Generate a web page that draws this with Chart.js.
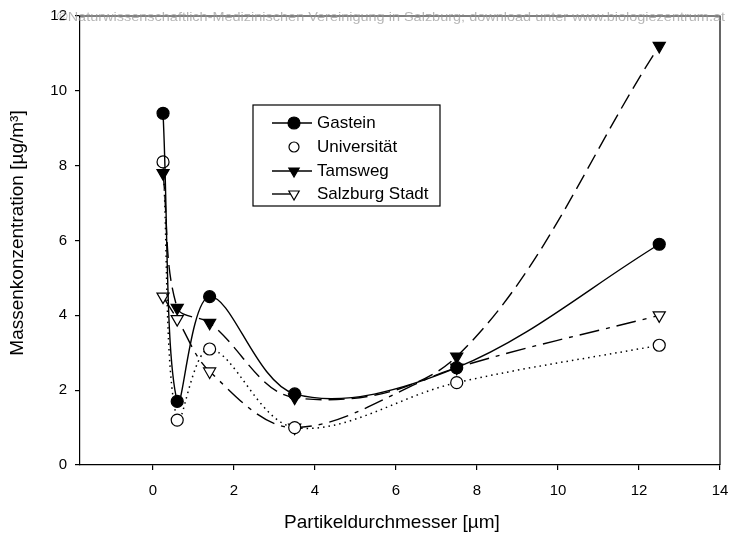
<!DOCTYPE html>
<html>
<head>
<meta charset="utf-8">
<script src="https://cdn.jsdelivr.net/npm/chart.js@4.4.1/dist/chart.umd.min.js"></script>
<style>
  html, body { margin: 0; padding: 0; background: #fff; }
  #wrap { width: 730px; height: 541px; }
</style>
</head>
<body>
<div id="wrap"><canvas id="chart" width="730" height="541"></canvas></div>
<script>
// particle diameter (µm) and mass concentration (µg/m³) per site
const diameters = [0.25, 0.6, 1.4, 3.5, 7.5, 12.5];
const gastein = [9.4, 1.7, 4.5, 1.9, 2.6, 5.9];
const universitaet = [8.1, 1.2, 3.1, 1.0, 2.2, 3.2];
const tamsweg = [7.8, 4.2, 3.8, 1.8, 2.9, 11.2];
const salzburgStadt = [4.5, 3.9, 2.5, 1.0, 2.6, 4.0];

const xTicks = [0, 2, 4, 6, 8, 10, 12, 14];
const yTicks = [0, 2, 4, 6, 8, 10, 12];

const X_TITLE = 'Partikeldurchmesser [µm]';
const Y_TITLE = 'Massenkonzentration [µg/m³]';

const FONT = 'Arial, "Liberation Sans", sans-serif';
const WATERMARK = '©Naturwissenschaftlich-Medizinischen Vereinigung in Salzburg; download unter www.biologiezentrum.at';

function pts(vals) {
  return vals.map((v, i) => ({ x: diameters[i], y: v }));
}

function series(label, vals, opts) {
  return Object.assign({
    label: label,
    data: pts(vals),
    borderColor: '#000',
    borderWidth: 1.4,
    pointBorderColor: '#000',
    pointBorderWidth: 1.2,
    pointRadius: 6,
    tension: 0.35,
    fill: false,
  }, opts);
}

// legend sample: how far the little line reaches on each side of the marker
const legendLines = {
  'Gastein': [-22, 18],
  'Universität': null,
  'Tamsweg': [-22, 18],
  'Salzburg Stadt': [-22, 0],
};

const boxLegend = {
  id: 'boxLegend',
  afterDatasetsDraw(chart) {
    const ctx = chart.ctx;
    ctx.save();
    ctx.fillStyle = '#fff';
    ctx.fillRect(253, 105, 187, 101);
    ctx.strokeStyle = '#000';
    ctx.lineWidth = 1.2;
    ctx.strokeRect(253, 105, 187, 101);
    const rows = [123, 147, 171, 194];
    chart.data.datasets.forEach((ds, i) => {
      const y = rows[i];
      const mx = 294;
      const span = legendLines[ds.label];
      if (span) {
        ctx.beginPath();
        ctx.setLineDash([]);
        ctx.lineWidth = 1.4;
        ctx.strokeStyle = '#000';
        ctx.moveTo(mx + span[0], y);
        ctx.lineTo(mx + span[1], y);
        ctx.stroke();
      }
      ctx.fillStyle = ds.pointBackgroundColor;
      ctx.strokeStyle = '#000';
      ctx.lineWidth = 1.2;
      Chart.helpers.drawPoint(ctx, {
        pointStyle: ds.pointStyle,
        rotation: ds.pointRotation || 0,
        radius: ds.legendRadius,
        borderWidth: 1.2,
      }, mx, y);
      ctx.fillStyle = '#000';
      ctx.font = '17px ' + FONT;
      ctx.textBaseline = 'middle';
      ctx.textAlign = 'left';
      ctx.fillText(ds.label, 317, y);
    });
    ctx.restore();
  }
};

const frame = {
  id: 'frame',
  afterDraw(chart) {
    const a = chart.chartArea;
    const ctx = chart.ctx;
    ctx.save();
    ctx.strokeStyle = '#000';
    ctx.lineWidth = 1.2;
    ctx.beginPath();
    ctx.moveTo(a.left, a.top);
    ctx.lineTo(a.right, a.top);
    ctx.lineTo(a.right, a.bottom);
    ctx.stroke();

    // axis titles
    ctx.fillStyle = '#000';
    ctx.font = '19px ' + FONT;
    ctx.textAlign = 'center';
    ctx.textBaseline = 'middle';
    ctx.fillText(X_TITLE, 392, 523);
    ctx.save();
    ctx.translate(18, 233);
    ctx.rotate(-Math.PI / 2);
    ctx.fillText(Y_TITLE, 0, 0);
    ctx.restore();

    // faint source line across the top
    ctx.font = '13px ' + FONT;
    ctx.fillStyle = 'rgba(150,150,150,0.7)';
    ctx.textAlign = 'left';
    const w = ctx.measureText(WATERMARK).width;
    ctx.translate(57, 17);
    ctx.scale(668 / w, 1);
    ctx.fillText(WATERMARK, 0, 0);
    ctx.restore();
  }
};

new Chart(document.getElementById('chart'), {
  type: 'line',
  data: {
    datasets: [
      series('Gastein', gastein, {
        pointStyle: 'circle', pointBackgroundColor: '#000', legendRadius: 6,
      }),
      series('Universität', universitaet, {
        borderDash: [1.5, 4], borderWidth: 1.5,
        pointStyle: 'circle', pointBackgroundColor: '#fff', legendRadius: 5,
      }),
      series('Tamsweg', tamsweg, {
        borderDash: [16, 7],
        pointStyle: 'triangle', pointRotation: 180, pointRadius: 7,
        pointBackgroundColor: '#000', legendRadius: 6,
      }),
      series('Salzburg Stadt', salzburgStadt, {
        borderDash: [20, 7, 4, 7],
        pointStyle: 'triangle', pointRotation: 180, pointRadius: 7,
        pointBackgroundColor: '#fff', legendRadius: 6,
      }),
    ]
  },
  options: {
    responsive: false,
    animation: false,
    devicePixelRatio: 1,
    layout: { padding: { top: 16, right: 10, left: 0, bottom: 0 } },
    plugins: { legend: { display: false }, tooltip: { enabled: false } },
    scales: {
      x: {
        type: 'linear',
        min: -1.8,
        max: 14,
        afterBuildTicks: s => { s.ticks = xTicks.map(v => ({ value: v })); },
        afterFit: s => { s.height = 76; s.paddingLeft = 0; s.paddingRight = 0; },
        grid: { drawOnChartArea: false, drawTicks: true, tickLength: 5, color: '#000', lineWidth: 1.2 },
        border: { color: '#000', width: 1.2 },
        ticks: { color: '#000', padding: 12, maxRotation: 0, font: { family: FONT, size: 15 } },
        title: { display: false }
      },
      y: {
        type: 'linear',
        min: 0,
        max: 12,
        afterBuildTicks: s => { s.ticks = yTicks.map(v => ({ value: v })); },
        afterFit: s => { s.width = 80; s.paddingTop = 0; s.paddingBottom = 0; },
        grid: { drawOnChartArea: false, drawTicks: true, tickLength: 5, color: '#000', lineWidth: 1.2 },
        border: { color: '#000', width: 1.2 },
        ticks: { color: '#000', padding: 8, font: { family: FONT, size: 15 } },
        title: { display: false }
      }
    }
  },
  plugins: [boxLegend, frame]
});
</script>
</body>
</html>
